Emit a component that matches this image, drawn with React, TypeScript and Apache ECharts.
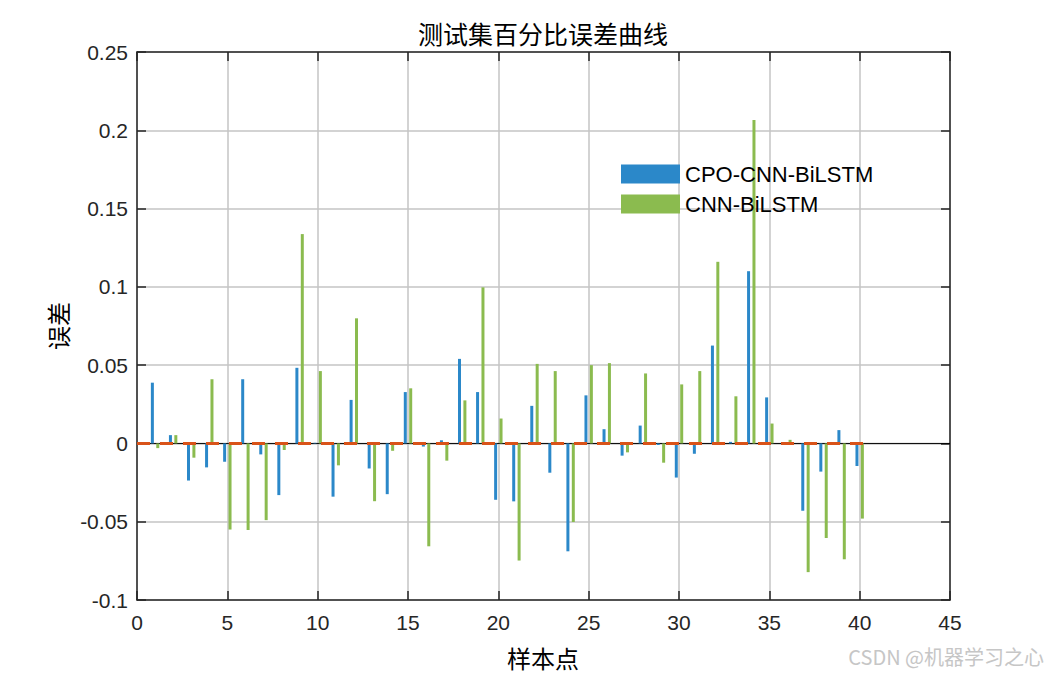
import React, { useEffect, useRef } from "react";
import * as echarts from "echarts";

const sampleIdx: number[] = Array.from({ length: 40 }, (_, i) => i + 1);

const cpoCnnBiLstm: number[] = [
  0.0388, 0.0053, -0.0237, -0.0153, -0.0117, 0.041, -0.007, -0.033, 0.0483, 0.0004,
  -0.034, 0.0278, -0.016, -0.0324, 0.0328, -0.002, 0.002, 0.054, 0.0328, -0.036,
  -0.037, 0.024, -0.0187, -0.0689, 0.0307, 0.0091, -0.0078, 0.0114, -0.001, -0.0218,
  -0.0066, 0.0625, 0.001, 0.11, 0.0294, 0.0005, -0.043, -0.018, 0.0085, -0.0144,
];

const cnnBiLstm: number[] = [
  -0.003, 0.0053, -0.0091, 0.041, -0.055, -0.0553, -0.049, -0.0042, 0.1337, 0.0462,
  -0.014, 0.0799, -0.0369, -0.0047, 0.0352, -0.0657, -0.011, 0.0275, 0.0997, 0.0159,
  -0.0748, 0.0508, 0.0462, -0.0502, 0.05, 0.0513, -0.0057, 0.0447, -0.0123, 0.0377,
  0.0462, 0.116, 0.0301, 0.2065, 0.0127, 0.0023, -0.0822, -0.0604, -0.074, -0.048,
];

const zeroLineX: number[] = [0, 40.6];
const baselineX: number[] = [0, 45];

const yTickValues: number[] = [-0.1, -0.05, 0, 0.05, 0.1, 0.15, 0.2, 0.25];
const yTickLabels: string[] = ["-0.1", "-0.05", "0", "0.05", "0.1", "0.15", "0.2", "0.25"];
const xTickLabels: string[] = ["0", "5", "10", "15", "20", "25", "30", "35", "40", "45"];

const seriesNames: string[] = ["CPO-CNN-BiLSTM", "CNN-BiLSTM"];
const titleText = "测试集百分比误差曲线";
const xLabelText = "样本点";
const yLabelText = "误差";
const watermark = "CSDN @机器学习之心";

const LATIN = '"Liberation Sans", Arial, Helvetica, sans-serif';
const CJK = '"Noto Sans CJK SC", "Liberation Sans", sans-serif';
const AXIS_COLOR = "#262626";
const GRID_COLOR = "#c4c4c4";

export default function App() {
  const ref = useRef<HTMLDivElement>(null);

  useEffect(() => {
    if (!ref.current) return;
    const chart = echarts.init(ref.current, undefined, { renderer: "svg" });

    const yFmt = (v: number) => {
      let best = 0;
      for (let i = 0; i < yTickValues.length; i++) {
        if (Math.abs(yTickValues[i] - v) < Math.abs(yTickValues[best] - v)) best = i;
      }
      return yTickLabels[best];
    };
    const xFmt = (v: number) => {
      const i = Math.round(v / 5);
      return xTickLabels[i] ?? String(v);
    };

    const commonAxisLine = { show: true, lineStyle: { color: AXIS_COLOR, width: 1.5 } };
    const commonTick = { show: true, inside: true, length: 9, lineStyle: { color: AXIS_COLOR, width: 1.5 } };

    chart.setOption({
      animation: false,
      backgroundColor: "#ffffff",
      grid: { left: 137, right: 100, top: 52, bottom: 75, containLabel: false },
      legend: {
        data: seriesNames,
        orient: "vertical",
        left: 621,
        top: 163,
        icon: "rect",
        itemWidth: 59,
        itemHeight: 19,
        itemGap: 8,
        padding: 0,
        textStyle: { fontFamily: LATIN, fontSize: 22, color: "#000" },
      },
      xAxis: [
        {
          type: "value",
          min: 0,
          max: 45,
          interval: 5,
          position: "bottom",
          axisLine: { ...commonAxisLine, onZero: false },
          axisTick: commonTick,
          axisLabel: { fontFamily: LATIN, fontSize: 21, color: AXIS_COLOR, margin: 12, formatter: xFmt },
          splitLine: { show: true, lineStyle: { color: GRID_COLOR, width: 1.5 } },
        },
        {
          type: "value",
          min: 0,
          max: 45,
          interval: 5,
          position: "top",
          axisLine: { ...commonAxisLine, onZero: false },
          axisTick: commonTick,
          axisLabel: { show: false },
          splitLine: { show: false },
        },
      ],
      yAxis: [
        {
          type: "value",
          min: -0.1,
          max: 0.25,
          interval: 0.05,
          position: "left",
          axisLine: { ...commonAxisLine, onZero: false },
          axisTick: commonTick,
          axisLabel: { fontFamily: LATIN, fontSize: 21, color: AXIS_COLOR, margin: 9, formatter: yFmt },
          splitLine: { show: true, lineStyle: { color: GRID_COLOR, width: 1.5 } },
        },
        {
          type: "value",
          min: -0.1,
          max: 0.25,
          interval: 0.05,
          position: "right",
          axisLine: { ...commonAxisLine, onZero: false },
          axisTick: commonTick,
          axisLabel: { show: false },
          splitLine: { show: false },
        },
      ],
      series: [
        {
          name: "baseline",
          type: "line",
          xAxisIndex: 0,
          yAxisIndex: 0,
          data: baselineX.map((x) => [x, 0]),
          symbol: "none",
          lineStyle: { color: "#000000", width: 1 },
          silent: true,
          z: 1,
        },
        {
          name: seriesNames[0],
          type: "bar",
          xAxisIndex: 0,
          yAxisIndex: 0,
          data: sampleIdx.map((x, i) => [x, cpoCnnBiLstm[i]]),
          barWidth: 3,
          barGap: "80%",
          itemStyle: { color: "#2b88c9" },
          z: 2,
        },
        {
          name: seriesNames[1],
          type: "bar",
          xAxisIndex: 0,
          yAxisIndex: 0,
          data: sampleIdx.map((x, i) => [x, cnnBiLstm[i]]),
          barWidth: 3,
          barGap: "80%",
          itemStyle: { color: "#8bbb4f" },
          z: 2,
        },
        {
          name: "zero",
          type: "line",
          xAxisIndex: 0,
          yAxisIndex: 0,
          data: zeroLineX.map((x) => [x, 0]),
          symbol: "none",
          lineStyle: { color: "#d95319", width: 3, type: [13, 10] },
          silent: true,
          z: 3,
        },
      ],
      graphic: [
        {
          type: "text",
          x: 543,
          y: 33,
          style: { text: titleText, font: `25px ${CJK}`, fill: "#000", align: "center", verticalAlign: "middle" },
        },
        {
          type: "text",
          x: 543,
          y: 657,
          style: { text: xLabelText, font: `24px ${CJK}`, fill: "#000", align: "center", verticalAlign: "middle" },
        },
        {
          type: "text",
          x: 57,
          y: 326,
          rotation: Math.PI / 2,
          style: { text: yLabelText, font: `24px ${CJK}`, fill: "#000", align: "center", verticalAlign: "middle" },
        },
        {
          type: "text",
          right: 6,
          top: 646,
          style: { text: watermark, font: `20px ${CJK}`, fill: "#c6c6c6" },
        },
      ],
    });

    return () => chart.dispose();
  }, []);

  return (
    <div
      ref={ref}
      style={{ position: "absolute", left: 0, top: 0, width: 1050, height: 675, background: "#fff" }}
    />
  );
}
